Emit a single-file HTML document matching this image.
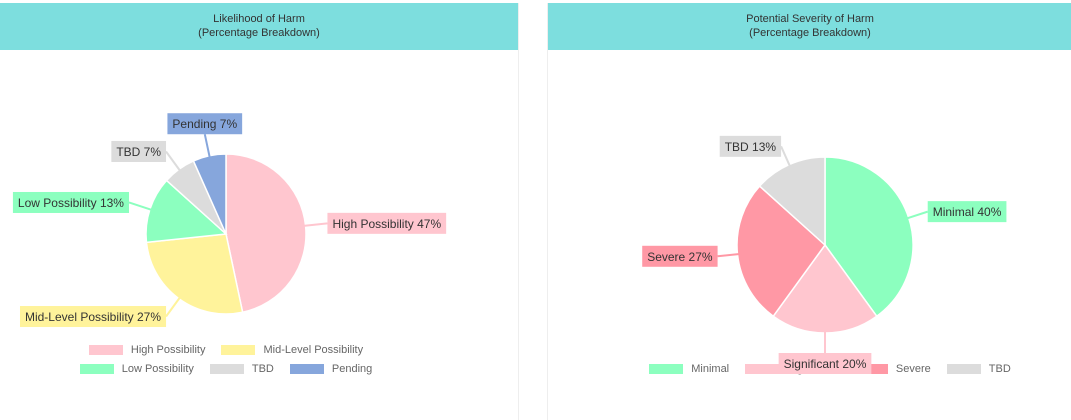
<!DOCTYPE html>
<html><head><meta charset="utf-8">
<style>
body{margin:0;width:1071px;height:420px;background:#fff;font-family:"Liberation Sans",sans-serif;overflow:hidden;position:relative}
.panel{position:absolute;top:3px;height:417px;background:#fff}
.hdr{height:47px;background:#7ddede;color:#333;font-size:11px;text-align:center;line-height:14px;padding-top:9px;box-sizing:border-box}
.legend{position:absolute;display:flex;flex-wrap:wrap;justify-content:center;font-size:11px;color:#666;row-gap:7px}
.li{display:flex;align-items:center;margin:0 8px;height:12px}
.sw{width:34px;height:10px;margin-right:8px}
svg{position:absolute;left:0;top:0}
</style></head><body>
<div class="panel" style="left:0;width:518px;border-right:1px solid #eee">
 <div class="hdr">Likelihood of Harm<br>(Percentage Breakdown)</div>
</div>
<div class="panel" style="left:547px;width:524px;border-left:1px solid #eee">
 <div class="hdr">Potential Severity of Harm<br>(Percentage Breakdown)</div>
</div>
<div class="legend" id="leg1" style="left:31px;width:390px;top:344px"></div>
<div class="legend" id="leg2" style="left:620px;width:420px;top:363px"></div>
<svg id="svg" width="1071" height="420"></svg>
<script>
const cats1=["High Possibility","Mid-Level Possibility","Low Possibility","TBD","Pending"];
const vals1=[7,4,2,1,1];
const cols1=["#ffc6cf","#fff39b","#8cffbf","#dcdcdc","#86a6dc"];
const cats2=["Minimal","Significant","Severe","TBD"];
const vals2=[6,3,4,2];
const cols2=["#8cffbf","#ffc6cf","#ff98a5","#dcdcdc"];
const NS="http://www.w3.org/2000/svg";
const svg=document.getElementById('svg');
const pieG=document.createElementNS(NS,'g');svg.appendChild(pieG);
const labG=document.createElementNS(NS,'g');svg.appendChild(labG);
function mk(tag,attrs,parent){const e=document.createElementNS(NS,tag);for(const k in attrs)e.setAttribute(k,attrs[k]);parent.appendChild(e);return e;}
function pt(cx,cy,r,f){const a=f*2*Math.PI;return [cx+r*Math.sin(a),cy-r*Math.cos(a)];}
function pie(id,cats,vals,cols,cx,cy,r,ld){
 const tot=vals.reduce((a,b)=>a+b,0);let acc=0;
 vals.forEach((v,i)=>{
  const f0=acc/tot,f1=(acc+v)/tot;acc+=v;
  const [x0,y0]=pt(cx,cy,r,f0),[x1,y1]=pt(cx,cy,r,f1);
  const p=mk('path',{d:`M${cx},${cy}L${x0},${y0}A${r},${r} 0 ${(f1-f0)>0.5?1:0} 1 ${x1},${y1}Z`,fill:cols[i],stroke:'#fff','stroke-width':1.5},pieG);
  
  
  const fm=(f0+f1)/2,dx=Math.sin(fm*2*Math.PI);
  const [ax,ay]=pt(cx,cy,r-2,fm),[bx,by]=pt(cx,cy,r+ld,fm);
  const ln=mk('line',{x1:ax,y1:ay,x2:bx,y2:by,stroke:cols[i],'stroke-width':2},labG);
  
  
  const txt=cats[i]+' '+Math.round(v/tot*100)+'%';
  const t=mk('text',{'font-size':12,fill:'#333','font-family':'Liberation Sans, sans-serif'},labG);t.textContent=txt;
  const w=t.getComputedTextLength()+10,h=21;
  let left;
  if(Math.abs(dx)<0.3)left=bx-w/2; else if(dx>0)left=bx; else left=bx-w;
  let top=Math.abs(dx)<0.3?(by>cy?by:by-h):by-h/2;
  const rc=mk('rect',{x:left,y:top,width:w,height:h,fill:cols[i]},labG);
  
  
  labG.appendChild(t);
  t.setAttribute('x',left+5);t.setAttribute('y',top+15);
  
  
 });
}
function legend(elid,cats,cols){
 const L=document.getElementById(elid);
 cats.forEach((c,i)=>{
  const d=document.createElement('div');d.className='li';
  
  
  d.innerHTML='<span class="sw" style="background:'+cols[i]+'"></span><span>'+c+'</span>';
  L.appendChild(d);
 });
}
legend('leg1',cats1,cols1);legend('leg2',cats2,cols2);
pie('likelihood',cats1,vals1,cols1,226,234,80,22);
pie('severity',cats2,vals2,cols2,825,245,88,20);
</script>
</body></html>
